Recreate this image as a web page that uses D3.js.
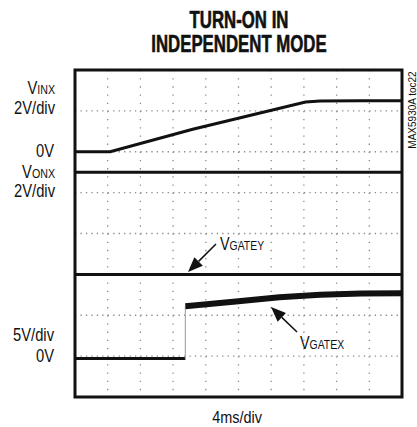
<!DOCTYPE html>
<html>
<head>
<meta charset="utf-8">
<script src="https://cdn.jsdelivr.net/npm/d3@7"></script>
<style>
  body { margin: 0; background: #fff; }
  text { font-family: "Liberation Sans", Arial, sans-serif; fill: #111; }
</style>
</head>
<body>
<div id="scope"></div>
<script>
// time axis, 4ms/div over 10 divisions
var timeTicks = [0, 4, 8, 12, 16, 20, 24, 28, 32, 36, 40];
var voltTicks = [0, 1, 2, 3, 4, 5, 6, 7, 8];   // vertical divisions

// traces (time in ms, volts)
var vinxTime  = [0, 4.3, 14.4, 28.2, 30, 35, 40];
var vinxVolts = [0, 0, 1.10, 2.43, 2.48, 2.5, 2.5];

var vonxTime  = [0, 10, 20, 30, 40];
var vonxVolts = [3, 3, 3, 3, 3];

var vgateyTime  = [0, 10, 20, 30, 40];
var vgateyVolts = [0, 0, 0, 0, 0];

var vgatexTime  = [0, 6, 13.5, 13.5, 20, 25, 30, 35, 40];
var vgatexVolts = [-0.3, -0.3, -0.3, 6.1, 6.7, 7.2, 7.5, 7.65, 7.7];

// set the dimensions and margins of the graph
var margin = {top: 70, right: 15, bottom: 30, left: 75},
    width = 327,
    height = 327;

var x = d3.scaleLinear().domain([0, 40]).range([0, width]);
var y = d3.scaleLinear().domain([0, 8]).range([height, 0]);

var svg = d3.select("#scope").append("svg")
    .attr("width", 417)
    .attr("height", 427);

var g = svg.append("g")
    .attr("transform", "translate(" + margin.left + "," + margin.top + ")");

// narrow text: no condensed face installed, so squeeze horizontally
function narrow(px, py, sx, anchor, size, weight) {
  return svg.append("text")
      .attr("transform", "translate(" + px + "," + py + ") scale(" + sx + ",1)")
      .attr("text-anchor", anchor)
      .style("font-size", size + "px")
      .style("font-weight", weight || "normal");
}

// title
narrow(239, 28, 0.7, "middle", 24, "bold").style("stroke", "#111").style("stroke-width", 0.6).text("TURN-ON IN");
narrow(239, 52, 0.7, "middle", 24, "bold").style("stroke", "#111").style("stroke-width", 0.6).text("INDEPENDENT MODE");

// dotted graticule
var hStep = (x(4) - x(0)) / 6,
    vStep = (y(0) - y(1)) / 5;

g.selectAll(".vgrid")
    .data(timeTicks.slice(1, -1))
  .enter().append("line")
    .attr("x1", function(d) { return x(d); })
    .attr("x2", function(d) { return x(d); })
    .attr("y1", 0).attr("y2", height)
    .attr("stroke", "#8a8a8a")
    .attr("stroke-width", 1.3)
    .attr("stroke-dasharray", "1.3," + (vStep - 1.3));

g.selectAll(".hgrid")
    .data(voltTicks.slice(1, -1))
  .enter().append("line")
    .attr("y1", function(d) { return y(d); })
    .attr("y2", function(d) { return y(d); })
    .attr("x1", 0).attr("x2", width)
    .attr("stroke", "#8a8a8a")
    .attr("stroke-width", 1.3)
    .attr("stroke-dasharray", "1.3," + (hStep - 1.3));

// channel setup: zero position in divisions and volts per division
function chan(zeroDiv, vPerDiv) {
  return d3.line()
    .x(function(d) { return x(d[0]); })
    .y(function(d) { return y(zeroDiv + d[1] / vPerDiv); });
}

function pairs(t, v) { return t.map(function(d, i) { return [d, v[i]]; }); }

var inx = chan(6, 2), onx = chan(4, 2), gatey = chan(3, 5), gatex = chan(1, 5);

g.append("path")
    .attr("d", inx(pairs(vinxTime, vinxVolts)))
    .attr("fill", "none").attr("stroke", "#111").attr("stroke-width", 3);

g.append("path")
    .attr("d", onx(pairs(vonxTime, vonxVolts)))
    .attr("fill", "none").attr("stroke", "#111").attr("stroke-width", 3);

g.append("path")
    .attr("d", gatey(pairs(vgateyTime, vgateyVolts)))
    .attr("fill", "none").attr("stroke", "#111").attr("stroke-width", 3);

// gate x: low part, fast edge, then the wide noisy high part
var gx = pairs(vgatexTime, vgatexVolts);
g.append("path")
    .attr("d", gatex(gx.slice(0, 3)))
    .attr("fill", "none").attr("stroke", "#111").attr("stroke-width", 3);
g.append("path")
    .attr("d", gatex(gx.slice(2, 4)))
    .attr("fill", "none").attr("stroke", "#aaa").attr("stroke-width", 1.2);
g.append("path")
    .attr("d", gatex(gx.slice(3)))
    .attr("fill", "none").attr("stroke", "#111").attr("stroke-width", 6);

// frame
g.append("rect")
    .attr("width", width).attr("height", height)
    .attr("fill", "none").attr("stroke", "#111").attr("stroke-width", 3);

// left labels
function label(px, py, main, sub) {
  var t = narrow(px, py, 0.82, "end", 18);
  t.append("tspan").text(main);
  if (sub) t.append("tspan").style("font-size", "13px").text(sub);
  return t;
}

label(55, 94, "V", "INX");
label(55, 114, "2V/div");
label(54, 157, "0V");
label(55, 178, "V", "ONX");
label(55, 197, "2V/div");
label(54, 341, "5V/div");
label(54, 362, "0V");

// in-plot callouts
var callouts = [
  {name: "GATEY", tx: 220, ty: 250, x1: 216, y1: 244, x2: 188, y2: 272},
  {name: "GATEX", tx: 300, ty: 349, x1: 297, y1: 332, x2: 271, y2: 307}
];
callouts.forEach(function(c) {
  var ang = Math.atan2(c.y2 - c.y1, c.x2 - c.x1);
  var hl = 15, hw = 6;
  var bx = c.x2 - hl * Math.cos(ang), by = c.y2 - hl * Math.sin(ang);
  svg.append("line")
      .attr("x1", c.x1).attr("y1", c.y1).attr("x2", bx).attr("y2", by)
      .attr("stroke", "#111").attr("stroke-width", 1.5);
  svg.append("polygon")
      .attr("points", [
        [c.x2, c.y2],
        [bx + hw * Math.sin(ang), by - hw * Math.cos(ang)],
        [bx - hw * Math.sin(ang), by + hw * Math.cos(ang)]
      ].map(function(p) { return p.join(","); }).join(" "))
      .attr("fill", "#111");
  var t = narrow(c.tx, c.ty, 0.8, "start", 18);
  t.append("tspan").text("V");
  t.append("tspan").style("font-size", "13px").text(c.name);
});

// x axis caption
narrow(237, 423, 0.85, "middle", 17).text("4ms/div");

// part number, rotated on the right
svg.append("text")
    .attr("transform", "translate(416,110) rotate(-90)")
    .attr("text-anchor", "middle")
    .style("font-size", "10px")
    .text("MAX5930A toc22");
</script>
</body>
</html>
